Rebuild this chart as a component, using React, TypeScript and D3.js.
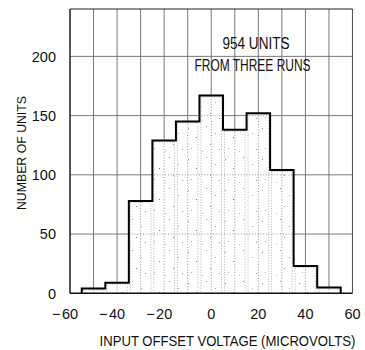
import React from "react";
import * as d3 from "d3";

// Histogram of input offset voltage, 10 µV bins centred on multiples of 10
const binCenters = [-50, -40, -30, -20, -10, 0, 10, 20, 30, 40, 50];
const binCounts = [4, 9, 78, 129, 145, 167, 138, 152, 104, 23, 5];
const xTicks = [-60, -40, -20, 0, 20, 40, 60];
const yTicks = [0, 50, 100, 150, 200];
const xGrid = [-50, -40, -30, -20, -10, 0, 10, 20, 30, 40, 50];
const yGrid = [50, 100, 150, 200];
const noteLines = ["954 UNITS", "FROM THREE RUNS"];
const xTitle = "INPUT OFFSET VOLTAGE (MICROVOLTS)";
const yTitle = "NUMBER OF UNITS";

const W = 365;
const H = 350;
const plot = { left: 70, right: 352.5, top: 9, bottom: 293.3 };
const BIN_W = 10;
const FONT = "'Liberation Sans', Arial, sans-serif";

// speckle positions inside one tile of the stipple texture
const speckles: [number, number, string][] = [
  [3, 4, "#8a8a8a"],
  [21, 2, "#9a9a9a"],
  [11, 13, "#7a7a7a"],
  [30, 9, "#a8a8a8"],
  [6, 24, "#b0b0b0"],
  [25, 20, "#8f8f8f"],
  [17, 27, "#bdbdbd"],
  [34, 25, "#9c9c9c"],
];

export default function App() {
  const x = d3.scaleLinear().domain([-60, 60]).range([plot.left, plot.right]);
  const y = d3.scaleLinear().domain([0, 240]).range([plot.bottom, plot.top]);

  const bins = binCenters.map((c, i) => ({
    x0: c - BIN_W / 2,
    x1: c + BIN_W / 2,
    n: binCounts[i],
  }));

  // Step outline across the tops of the bins
  const first = bins[0];
  const last = bins[bins.length - 1];
  const outline = d3.path();
  outline.moveTo(x(first.x0), y(0));
  bins.forEach((b) => {
    outline.lineTo(x(b.x0), y(b.n));
    outline.lineTo(x(b.x1), y(b.n));
  });
  outline.lineTo(x(last.x1), y(0));

  const minus = "\u2212";

  return (
    <svg
      width={W}
      height={H}
      style={{ position: "absolute", left: 0, top: 0, background: "#fff" }}
      fontFamily={FONT}
    >
      <defs>
        <pattern id="stipple" width="37" height="31" patternUnits="userSpaceOnUse">
          {speckles.map(([sx, sy, c], i) => (
            <rect key={i} x={sx} y={sy} width="1" height="1" fill={c} />
          ))}
        </pattern>
        <clipPath id="barsClip">
          {bins.map((b, i) => (
            <rect key={i} x={x(b.x0)} y={y(b.n)} width={x(b.x1) - x(b.x0)} height={y(0) - y(b.n)} />
          ))}
        </clipPath>
      </defs>

      {/* grid */}
      <g stroke="#6a6a6a" strokeWidth={0.9}>
        {xGrid.map((v) => (
          <line key={"gx" + v} x1={x(v)} x2={x(v)} y1={plot.top} y2={plot.bottom} />
        ))}
        {yGrid.map((v) => (
          <line key={"gy" + v} x1={plot.left} x2={plot.right} y1={y(v)} y2={y(v)} />
        ))}
      </g>

      {/* bins */}
      <g>
        {bins.map((b, i) => (
          <rect
            key={i}
            x={x(b.x0)}
            y={y(b.n)}
            width={x(b.x1) - x(b.x0)}
            height={y(0) - y(b.n)}
            fill="#fff"
          />
        ))}
      </g>
      <g clipPath="url(#barsClip)" stroke="#8c8c8c" strokeWidth={0.9} strokeDasharray="1 1.8">
        {xGrid.map((v) => (
          <line key={"dx" + v} x1={x(v)} x2={x(v)} y1={plot.top} y2={plot.bottom} />
        ))}
        {yGrid.map((v) => (
          <line key={"dy" + v} x1={plot.left} x2={plot.right} y1={y(v)} y2={y(v)} />
        ))}
      </g>
      <g>
        {bins.map((b, i) => (
          <rect
            key={i}
            x={x(b.x0) + 1.5}
            y={y(b.n) + 1.5}
            width={Math.max(0, x(b.x1) - x(b.x0) - 3)}
            height={Math.max(0, y(0) - y(b.n) - 1.5)}
            fill="url(#stipple)"
            stroke="#a2a2a2"
            strokeWidth={0.8}
            strokeDasharray="1 1.6"
          />
        ))}
      </g>

      {/* frame */}
      <g fill="none">
        <line x1={plot.left} x2={plot.left} y1={plot.top} y2={plot.bottom} stroke="#111" strokeWidth={1.4} />
        <line x1={plot.left} x2={plot.right} y1={plot.bottom} y2={plot.bottom} stroke="#111" strokeWidth={1.4} />
        <line x1={plot.left} x2={plot.right} y1={plot.top} y2={plot.top} stroke="#222" strokeWidth={1.2} />
        <line x1={plot.right} x2={plot.right} y1={plot.top} y2={plot.bottom} stroke="#555" strokeWidth={1.1} />
      </g>

      {/* histogram outline */}
      <path d={outline.toString()} fill="none" stroke="#000" strokeWidth={2} strokeLinejoin="miter" />

      {/* y tick labels */}
      <g fontSize={14.5} fill="#111" textAnchor="end">
        {yTicks.map((v) => (
          <text key={"yt" + v} x={56} y={y(v)} dy="0.36em">
            {v}
          </text>
        ))}
      </g>

      {/* x tick labels: digits centred on the tick, minus sign hung to the left */}
      <g fontSize={14.5} fill="#111">
        {xTicks.map((v) => (
          <g key={"xt" + v}>
            <text x={x(v)} y={318.5} textAnchor="middle">
              {Math.abs(v)}
            </text>
            {v < 0 && (
              <text x={x(v) - 9.5} y={318.5} textAnchor="end">
                {minus}
              </text>
            )}
          </g>
        ))}
      </g>

      {/* annotation */}
      <g fontSize={16} fill="#111" textAnchor="middle">
        <text x={256} y={48.5} textLength={67} lengthAdjust="spacingAndGlyphs">
          {noteLines[0]}
        </text>
        <text x={252.5} y={70.5} textLength={116} lengthAdjust="spacingAndGlyphs">
          {noteLines[1]}
        </text>
      </g>

      {/* axis titles (set in a horizontally condensed face) */}
      <g transform="translate(227.5,345.5) scale(0.905,1)">
        <text x={0} y={0} fontSize={14.5} fill="#111" textAnchor="middle">
          {xTitle}
        </text>
      </g>
      <text
        transform="translate(25.5,153) rotate(-90)"
        fontSize={13}
        fill="#111"
        textAnchor="middle"
        textLength={114}
        lengthAdjust="spacingAndGlyphs"
      >
        {yTitle}
      </text>
    </svg>
  );
}
